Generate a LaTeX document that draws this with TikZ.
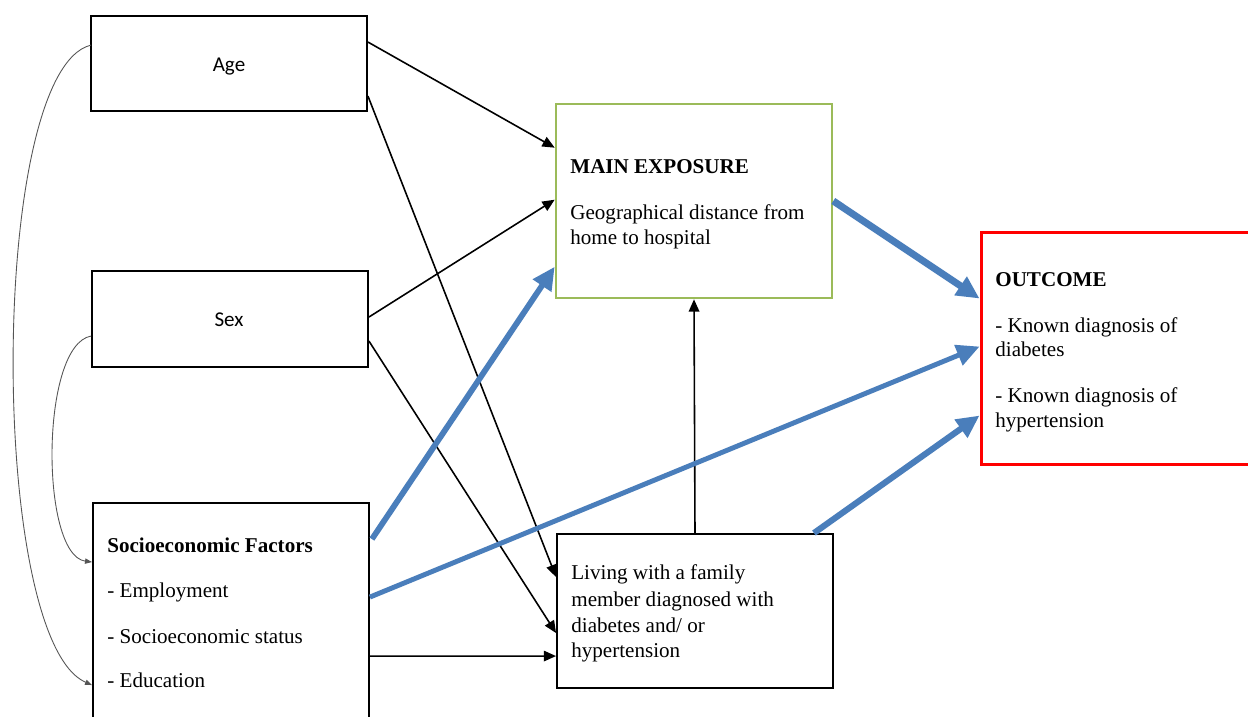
\documentclass[tikz,border=0pt]{standalone}
\usepackage{fontspec}
\setmainfont{Liberation Serif}
\newfontfamily\calfont{Carlito}
\usetikzlibrary{arrows.meta,calc}
\definecolor{exgreen}{HTML}{9BBB59}
\definecolor{arrblue}{HTML}{4A7EBB}
\definecolor{outred}{HTML}{FF0000}
\definecolor{curvegray}{HTML}{555555}
\begin{document}
\begin{tikzpicture}[x=0.02cm,y=-0.02cm,
  box/.style={draw=black,line width=1.1pt,minimum width=5.52cm,inner sep=0pt},
  txt/.style={anchor=base west,inner sep=0pt,font=\fontsize{12}{14}\selectfont},
  sanstxt/.style={anchor=base,inner sep=0pt,font=\calfont\fontsize{12}{14}\selectfont},
  blackarrow/.style={draw=black,line width=0.9pt,-{Triangle[length=7pt,width=6pt]}},
  bluearrow/.style={draw=arrblue,-{Triangle[length=13pt,width=12pt]}},
  curvearrow/.style={draw=curvegray,line width=0.5pt,-{Triangle[length=4pt,width=3pt]}}]
\fill[white] (0,0) rectangle (1248,717);
\useasboundingbox (0,0) rectangle (1248,717);

% boxes
\node[box,minimum height=1.9cm] (age) at (229,63.5) {};
\node[box,minimum height=1.92cm] (sex) at (230,319) {};
\node[box,minimum height=5.14cm] (socio) at (231,631.5) {};
\node[box,draw=exgreen,line width=1.5pt,minimum height=3.88cm] (main) at (694,201) {};
\node[box,draw=outred,line width=1.7pt,minimum width=5.58cm,minimum height=4.66cm] (outcome) at (1120.5,348.5) {};
\node[box,minimum height=3.08cm] (living) at (695,611) {};

% texts
\node[sanstxt] (agetxt) at (229,71) {Age};
\node[sanstxt] (sextxt) at (229,326) {Sex};

\node[txt,font=\bfseries\fontsize{12}{14}\selectfont] (s1) at (107,552) {Socioeconomic Factors};
\node[txt] (s2) at (107,597) {- Employment};
\node[txt] (s3) at (107,643) {- Socioeconomic status};
\node[txt] (s4) at (107,687) {- Education};

\node[txt,font=\bfseries\fontsize{12}{14}\selectfont] (m1) at (570,173) {MAIN EXPOSURE};
\node[txt] (m2) at (570,219) {Geographical distance from};
\node[txt] (m3) at (570,244) {home to hospital};

\node[txt,font=\bfseries\fontsize{12}{14}\selectfont] (o1) at (995,286) {OUTCOME};
\node[txt] (o2) at (995,332) {- Known diagnosis of};
\node[txt] (o3) at (995,356) {diabetes};
\node[txt] (o4) at (995,402) {- Known diagnosis of};
\node[txt] (o5) at (995,427) {hypertension};

\node[txt] (l1) at (571,579) {Living with a family};
\node[txt] (l2) at (571,606) {member diagnosed with};
\node[txt] (l3) at (571,632) {diabetes and/ or};
\node[txt] (l4) at (571,657) {hypertension};

% black connectors
\draw[blackarrow] ($(age.north east)+(0,27)$) -- ($(main.north west)+(0,45)$);
\draw[blackarrow] ($(age.north east)+(0,81)$) -- ($(living.north west)+(0,44)$);
\draw[blackarrow] ($(sex.north east)+(0,47)$) -- ($(main.north west)+(0,97)$);
\draw[blackarrow] ($(sex.north east)+(0,71)$) -- ($(living.north west)+(0,100)$);
\draw[blackarrow] ($(socio.north east)+(0,154)$) -- ($(living.north west)+(0,123)$);
\draw[blackarrow] (living.north) -- (main.south);

% blue connectors
\draw[bluearrow,line width=3.3pt] ($(socio.north east)+(2,37)$) -- ($(main.north west)+(0,164)$);
\draw[bluearrow,line width=2.8pt] ($(socio.north east)+(0,95)$) -- ($(outcome.north west)+(0,116)$);
\draw[bluearrow,line width=4pt] (main.east) -- ($(outcome.north west)+(0,68)$);
\draw[bluearrow,line width=3.5pt] ($(living.north east)+(-20,0)$) -- ($(outcome.north west)+(0,185)$);

% gray curved connectors
\draw[curvearrow] ($(age.north west)+(1,30)$) .. controls (-12,70) and (-12,640) .. ($(socio.north west)+(0,183)$);
\draw[curvearrow] ($(sex.north west)+(0,66)$) .. controls (40,345) and (40,555) .. ($(socio.north west)+(0,60)$);
\end{tikzpicture}
\end{document}
